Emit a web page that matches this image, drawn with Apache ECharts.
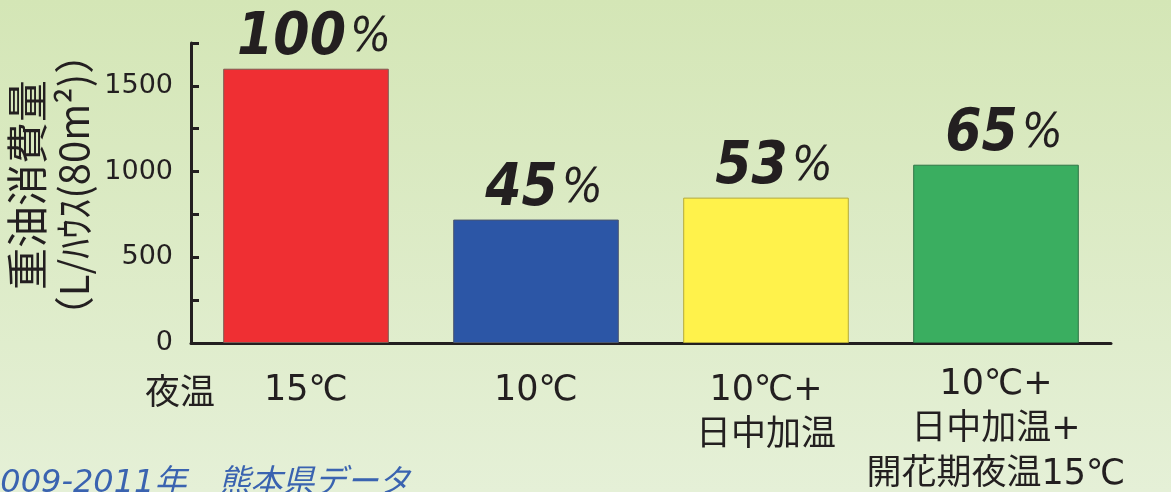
<!DOCTYPE html>
<html>
<head>
<meta charset="utf-8">
<script src="https://cdn.jsdelivr.net/npm/echarts@6/dist/echarts.min.js"></script>
<style>
  html, body { margin: 0; padding: 0; }
  #chart { width: 1171px; height: 492px; }
</style>
</head>
<body>
<div id="chart"></div>
<script>
// Heating-oil consumption per greenhouse under four night-temperature regimes
const categories = ['15℃', '10℃', '10℃+\n日中加温', '10℃+\n日中加温+\n開花期夜温15℃'];
const fuelUse = [1600, 720, 848, 1040];          // L per 80 m² house
const barColors = ['#ef2f33', '#2c56a6', '#fff24b', '#3aae60'];
const barBorders = ['#7d5a52', '#4a5670', '#b5aa3a', '#2f7446'];
const yTickLabels = [0, 500, 1000, 1500];
const yMax = 1750;
const yStep = 250;
const xName = '夜温';
const sourceNote = '2009-2011年　熊本県データ';

const ink = '#231f20';
const latinCjk = '"DejaVu Sans", "Noto Sans CJK JP", sans-serif';
const pctFont = '"DejaVu Sans Condensed", "DejaVu Sans", sans-serif';

const chart = echarts.init(document.getElementById('chart'), null, { renderer: 'canvas' });

chart.setOption({
  animation: false,
  backgroundColor: {
    type: 'linear', x: 0, y: 0, x2: 0, y2: 1,
    colorStops: [
      { offset: 0, color: '#d4e6b6' },
      { offset: 1, color: '#e5f0d7' }
    ]
  },
  grid: { left: 191, right: 60, top: 43, bottom: 149, outerBoundsMode: 'none', containLabel: false },
  xAxis: {
    type: 'category',
    data: categories.map((c, i) => i === categories.length - 1
      ? c
      : { value: c, textStyle: { padding: [6, 0, 0, 0] } }),
    boundaryGap: true,
    axisLine: { lineStyle: { color: ink, width: 3 } },
    axisTick: { inside: true, length: 10, lineStyle: { color: ink, width: 3 } },
    axisLabel: {
      margin: 19,
      color: ink,
      fontSize: 35,
      lineHeight: 45,
      fontFamily: latinCjk,
      interval: 0
    },
    name: xName,
    nameLocation: 'start',
    nameGap: -24,
    nameTextStyle: {
      color: ink,
      fontSize: 35,
      fontFamily: '"Noto Sans CJK JP", sans-serif',
      align: 'right',
      verticalAlign: 'top',
      padding: [30, 0, 0, 0]
    }
  },
  yAxis: {
    type: 'value',
    min: 0,
    max: yMax,
    interval: yStep,
    splitLine: { show: false },
    axisLine: { show: true, lineStyle: { color: ink, width: 3 } },
    axisTick: { show: true, inside: true, length: 8, lineStyle: { color: ink, width: 3 } },
    axisLabel: {
      margin: 18,
      color: ink,
      fontSize: 27,
      fontFamily: '"DejaVu Sans", sans-serif',
      formatter: v => yTickLabels.includes(v) ? String(v) : ''
    },
    name: '{a|重油消費量}\n{b|（L/ﾊｳｽ(80m²)）}',
    nameLocation: 'middle',
    nameRotate: 90,
    nameGap: 90,
    nameTextStyle: {
      color: ink,
      padding: [0, 0, 0, 16],
      rich: {
        a: { fontSize: 42, lineHeight: 46, fontFamily: '"Noto Sans CJK JP", sans-serif', color: ink },
        b: { fontSize: 40, lineHeight: 46, fontFamily: '"Noto Sans CJK JP", sans-serif', color: ink }
      }
    }
  },
  series: [{
    type: 'bar',
    barWidth: '72%',
    data: fuelUse.map((v, i) => ({
      value: v,
      itemStyle: { color: barColors[i], borderColor: barBorders[i], borderWidth: 1 }
    })),
    label: {
      show: true,
      position: 'top',
      distance: 1,
      offset: [8, 0],
      formatter: p => '{n|' + Math.round(p.value / fuelUse[0] * 100) + '}{p|%}',
      rich: {
        n: { fontFamily: pctFont, fontWeight: 'bold', fontStyle: 'italic', fontSize: 58, color: ink },
        p: {
          fontFamily: pctFont, fontWeight: 'normal', fontStyle: 'italic', fontSize: 48, color: ink,
          padding: [0, 0, 0, 4]
        }
      }
    }
  }],
  graphic: [{
    type: 'text',
    x: -20,
    y: 500,
    style: {
      text: sourceNote,
      fill: '#3a63b0',
      font: 'italic 32px "DejaVu Sans", "Noto Sans CJK JP", sans-serif',
      verticalAlign: 'bottom'
    }
  }]
});
</script>
</body>
</html>
